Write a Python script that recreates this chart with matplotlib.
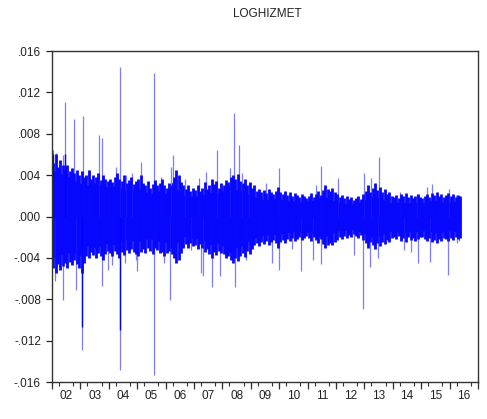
import numpy as np
import matplotlib
matplotlib.use("Agg")
import matplotlib.pyplot as plt

plt.rcParams['font.family'] = ['Liberation Sans', 'DejaVu Sans']

title = "LOGHIZMET"

# Dense core band of the series (read per quarter, decimal years)
core_dates = [2002.0 + 0.25 * i for i in range(58)] + [2016.39]
core_upper = [.0045, .0042, .0040, .0036,
              .0032, .0030, .0033, .0030,
              .0028, .0030, .0026, .0024,
              .0028, .0024, .0022, .0025,
              .0022, .0034, .0022, .0019,
              .0020, .0020, .0024, .0022,
              .0025, .0030, .0026, .0024,
              .0020, .0018, .0016, .0018,
              .0017, .0016, .0015, .0014,
              .0015, .0016, .0020, .0018,
              .0014, .0013, .0012, .0013,
              .0016, .0020, .0018, .0015,
              .0013, .0014, .0013, .0014,
              .0013, .0015, .0016, .0014,
              .0014, .0015, .0015]
core_lower = [-.0040, -.0038, -.0035, -.0035,
              -.0038, -.0028, -.0030, -.0028,
              -.0025, -.0028, -.0022, -.0022,
              -.0025, -.0022, -.0022, -.0024,
              -.0025, -.0032, -.0022, -.0018,
              -.0022, -.0020, -.0028, -.0025,
              -.0028, -.0035, -.0030, -.0028,
              -.0022, -.0020, -.0018, -.0018,
              -.0017, -.0016, -.0015, -.0015,
              -.0015, -.0018, -.0020, -.0018,
              -.0014, -.0014, -.0012, -.0014,
              -.0016, -.0020, -.0019, -.0016,
              -.0014, -.0016, -.0015, -.0015,
              -.0014, -.0014, -.0016, -.0015,
              -.0014, -.0015, -.0015]

# Monthly fringe extremes (outer part of the band), Jan 2002 .. May 2016
fringe_up = [
    .0052, .0060, .0048, .0055, .0050, .0046, .0050, .0044, .0047, .0042, .0045, .0040,
    .0044, .0038, .0040, .0045, .0036, .0040, .0038, .0042, .0035, .0040, .0036, .0034,
    .0036, .0033, .0038, .0042, .0036, .0034, .0040, .0032, .0035, .0038, .0031, .0034,
    .0036, .0040, .0032, .0030, .0034, .0028, .0031, .0035, .0030, .0032, .0036, .0030,
    .0028, .0032, .0030, .0038, .0045, .0040, .0033, .0030, .0027, .0030, .0025, .0028,
    .0026, .0030, .0025, .0028, .0033, .0027, .0030, .0036, .0031, .0034, .0028, .0032,
    .0030, .0035, .0033, .0038, .0040, .0036, .0041, .0034, .0032, .0036, .0030, .0033,
    .0028, .0030, .0025, .0027, .0024, .0026, .0023, .0027, .0024, .0022, .0025, .0029,
    .0024, .0022, .0025, .0021, .0024, .0020, .0023, .0021, .0019, .0022, .0020, .0018,
    .0020, .0023, .0019, .0022, .0025, .0021, .0026, .0030, .0027, .0025, .0028, .0024,
    .0022, .0019, .0021, .0018, .0020, .0017, .0019, .0016, .0018, .0020, .0017, .0022,
    .0025, .0030, .0024, .0028, .0032, .0026, .0029, .0024, .0027, .0022, .0024, .0020,
    .0019, .0021, .0018, .0022, .0020, .0023, .0019, .0021, .0018, .0020, .0022, .0019,
    .0018, .0020, .0022, .0019, .0023, .0021, .0024, .0020, .0022, .0019, .0021, .0023,
    .0020, .0022, .0019, .0021, .0020]
fringe_down = [
    -.0050, -.0055, -.0046, -.0052, -.0048, -.0045, -.0050, -.0044, -.0047, -.0042, -.0046, -.0050,
    -.0055, -.0045, -.0038, -.0040, -.0034, -.0037, -.0040, -.0035, -.0038, -.0042, -.0036, -.0033,
    -.0035, -.0038, -.0033, -.0036, -.0040, -.0034, -.0037, -.0032, -.0035, -.0031, -.0034, -.0036,
    -.0038, -.0034, -.0031, -.0035, -.0030, -.0033, -.0036, -.0030, -.0032, -.0035, -.0034, -.0038,
    -.0035, -.0033, -.0036, -.0040, -.0045, -.0042, -.0035, -.0030, -.0027, -.0030, -.0026, -.0029,
    -.0028, -.0031, -.0027, -.0030, -.0034, -.0031, -.0036, -.0040, -.0034, -.0037, -.0033, -.0035,
    -.0036, -.0040, -.0038, -.0042, -.0045, -.0040, -.0043, -.0038, -.0035, -.0039, -.0033, -.0036,
    -.0031, -.0028, -.0026, -.0029, -.0025, -.0027, -.0024, -.0028, -.0025, -.0023, -.0026, -.0030,
    -.0025, -.0023, -.0026, -.0022, -.0024, -.0021, -.0024, -.0022, -.0020, -.0023, -.0021, -.0019,
    -.0021, -.0024, -.0020, -.0023, -.0026, -.0022, -.0027, -.0030, -.0028, -.0026, -.0028, -.0025,
    -.0023, -.0020, -.0022, -.0019, -.0021, -.0018, -.0020, -.0017, -.0019, -.0021, -.0018, -.0023,
    -.0026, -.0030, -.0025, -.0028, -.0031, -.0026, -.0029, -.0025, -.0027, -.0023, -.0025, -.0021,
    -.0020, -.0022, -.0019, -.0024, -.0021, -.0025, -.0020, -.0023, -.0021, -.0024, -.0022, -.0020,
    -.0020, -.0022, -.0024, -.0021, -.0025, -.0023, -.0026, -.0022, -.0024, -.0021, -.0022, -.0024,
    -.0021, -.0023, -.0020, -.0022, -.0021]

# Individual spikes (decimal year, value)
up_dates = [2002.04, 2002.15, 2002.39, 2002.47, 2002.71, 2002.77, 2003.09, 2003.30,
            2003.65, 2003.76, 2004.01, 2004.24, 2004.39, 2004.60, 2004.82, 2005.12,
            2005.59, 2005.83, 2006.18, 2006.27, 2006.68, 2007.18, 2007.41, 2007.80,
            2008.27, 2008.41, 2008.58, 2008.68, 2008.94, 2009.52, 2009.98, 2011.29,
            2011.47, 2012.08, 2012.97, 2013.22, 2013.50, 2014.24, 2014.85, 2015.22,
            2015.37, 2015.98, 2016.21]
up_values = [.0064, .0061, .0059, .0111, .0047, .0094, .0097, .0045,
             .0079, .0076, .0035, .0048, .0145, .0040, .0042, .0053,
             .0139, .0038, .0048, .0059, .0036, .0037, .0043, .0064,
             .0047, .0100, .0069, .0042, .0032, .0032, .0047, .0030,
             .0049, .0037, .0042, .0037, .0058, .0024, .0022, .0029,
             .0031, .0027, .0021]

down_dates = [2002.02, 2002.12, 2002.39, 2002.86, 2003.06, 2003.76, 2003.97, 2004.12,
              2004.39, 2004.57, 2004.95, 2005.00, 2005.59, 2005.94, 2006.14, 2006.62,
              2006.88, 2007.24, 2007.33, 2007.62, 2007.93, 2008.44, 2008.82, 2009.29,
              2009.75, 2009.99, 2010.45, 2010.76, 2011.20, 2011.48, 2012.62, 2012.95,
              2013.18, 2013.48, 2014.39, 2014.63, 2014.87, 2015.31, 2015.95, 2016.27,
              2016.33]
down_values = [-.0048, -.0062, -.0081, -.0071, -.0129, -.0067, -.0052, -.0047,
               -.0148, -.0045, -.0042, -.0053, -.0153, -.0045, -.0081, -.0029,
               -.0032, -.0055, -.0058, -.0068, -.0058, -.0068, -.0042, -.0028,
               -.0045, -.0052, -.0031, -.0053, -.0042, -.0046, -.0037, -.0089,
               -.0049, -.0040, -.0032, -.0034, -.0045, -.0044, -.0057, -.0026,
               -.0024]

# Dark (dense) parts of the largest spikes
dark_dates = [2003.06, 2004.39, 2002.04, 2002.47]
dark_values = [-.0107, -.0110, .0060, .0060]

year_labels = ["02", "03", "04", "05", "06", "07", "08", "09",
               "10", "11", "12", "13", "14", "15", "16"]
ytick_values = [-.016, -.012, -.008, -.004, .000, .004, .008, .012, .016]

fig = plt.figure(figsize=(4.87, 4.19), dpi=100)
ax = fig.add_axes([52 / 487, 1 - 382 / 419, 426 / 487, 331 / 419])

light = '#7c7cff'
mid = '#0808ff'
core = '#0000ff'

fringe_dates = [2002 + (m + 0.5) / 12 for m in range(len(fringe_up))]

ax.vlines(up_dates, 0, up_values, colors=light, linewidth=0.9)
ax.vlines(down_dates, 0, down_values, colors=light, linewidth=0.9)
ax.vlines(fringe_dates, fringe_down, fringe_up, colors=mid, linewidth=2.0)
ax.fill_between(core_dates, core_lower, core_upper, color=core, linewidth=0)
ax.vlines(dark_dates, 0, dark_values, colors=core, linewidth=1.0)

ax.set_xlim(2002.0, 2017.0)
ax.set_ylim(-0.016, 0.016)

years = np.arange(2002, 2017)
ax.set_xticks(years + 0.5)
ax.set_xticklabels(year_labels)
ax.set_xticks(np.arange(2002, 2017.01, 0.25), minor=True)
ax.tick_params(axis='x', which='major', length=0, pad=6, labelsize=8.5, colors='#222222')
ax.tick_params(axis='x', which='minor', length=3, width=0.8, direction='out', color='#333333')
sec = ax.secondary_xaxis('bottom')
sec.set_xticks(np.arange(2002, 2018))
sec.set_xticklabels([])
sec.tick_params(length=5, width=0.9, color='#333333')
sec.spines['bottom'].set_visible(False)

ax.set_yticks(ytick_values)
ax.set_yticklabels([("-" if v < 0 else "") + ("%.3f" % abs(v))[1:] for v in ytick_values])
ax.tick_params(axis='y', length=4, width=0.9, pad=4, labelsize=8.5,
               colors='#222222', direction='out')

for s in ax.spines.values():
    s.set_color('#333333')
    s.set_linewidth(1.0)

fig.text(267 / 487, 1 - 14 / 419, title, ha='center', va='center', fontsize=8.5, color='#222222')

fig.savefig("out.png", dpi=100, facecolor='white')
